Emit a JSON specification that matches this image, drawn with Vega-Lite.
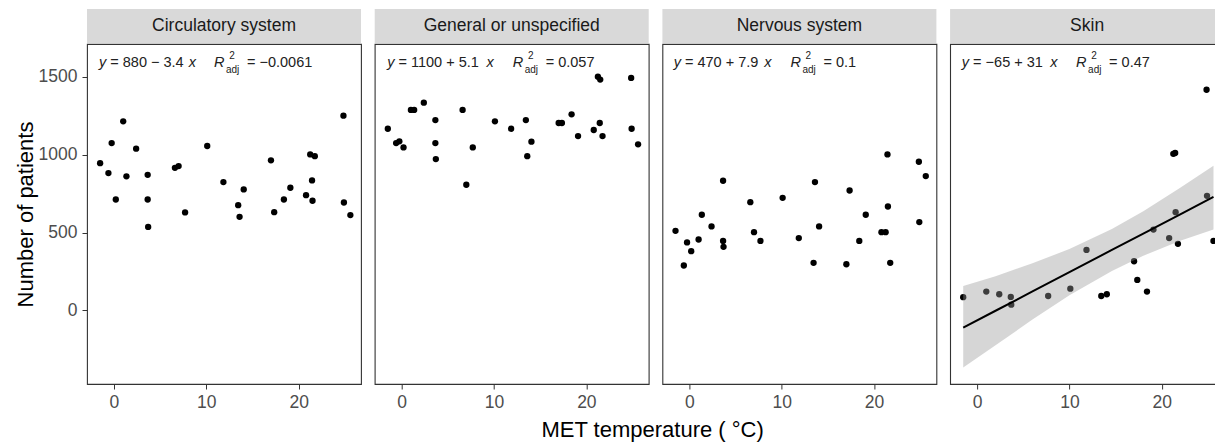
{
  "$schema": "https://vega.github.io/schema/vega-lite/v6.json",
  "padding": {"left": 13, "top": 9, "right": 0, "bottom": 0},
  "config": {
    "font": "Liberation Sans",
    "view": {"stroke": "#333", "strokeWidth": 1.1},
    "axis": {"grid": false, "domain": false, "labelFont": "Liberation Sans", "labelFontSize": 17.5, "labelColor": "#4d4d4d", "tickColor": "#333", "tickSize": 5, "labelPadding": 4, "titleFont": "Liberation Sans", "titleFontWeight": "normal", "titleFontSize": 22, "titleColor": "#000"},
    "concat": {"spacing": 11.7}
  },
  "title": {"text": "MET temperature ( °C)", "orient": "bottom", "anchor": "middle", "frame": "group", "dx": 565.6, "font": "Liberation Sans", "fontSize": 22, "fontWeight": "normal", "color": "#000", "offset": 9},
  "datasets": {
    "labels": [
      {"panel": "Circulatory system", "mid": "= 880 − 3.4", "r2": "= −0.0061"},
      {"panel": "General or unspecified", "mid": "= 1100 + 5.1", "r2": "= 0.057"},
      {"panel": "Nervous system", "mid": "= 470 + 7.9", "r2": "= 0.1"},
      {"panel": "Skin", "mid": "= −65 + 31", "r2": "= 0.47"}
    ],
    "band": [
      {"x": -1.5, "fit": -111, "lo": -368, "hi": 156},
      {"x": 2, "fit": -3, "lo": -225, "hi": 219},
      {"x": 6, "fit": 121, "lo": -60, "hi": 302},
      {"x": 10, "fit": 245, "lo": 96, "hi": 394},
      {"x": 14.6, "fit": 388, "lo": 253, "hi": 523},
      {"x": 18, "fit": 493, "lo": 350, "hi": 636},
      {"x": 22, "fit": 617, "lo": 447, "hi": 787},
      {"x": 25.6, "fit": 729, "lo": 520, "hi": 930}
    ],
    "pts": [
      {"panel": "Circulatory system", "temp": -1.5, "n": 946},
      {"panel": "Circulatory system", "temp": -0.6, "n": 882},
      {"panel": "Circulatory system", "temp": -0.25, "n": 1075},
      {"panel": "Circulatory system", "temp": 0.2, "n": 712},
      {"panel": "Circulatory system", "temp": 1.0, "n": 1215},
      {"panel": "Circulatory system", "temp": 1.35, "n": 861},
      {"panel": "Circulatory system", "temp": 2.4, "n": 1039},
      {"panel": "Circulatory system", "temp": 3.65, "n": 871},
      {"panel": "Circulatory system", "temp": 3.65, "n": 712},
      {"panel": "Circulatory system", "temp": 3.7, "n": 536},
      {"panel": "Circulatory system", "temp": 6.6, "n": 916},
      {"panel": "Circulatory system", "temp": 7.0, "n": 927},
      {"panel": "Circulatory system", "temp": 7.7, "n": 629},
      {"panel": "Circulatory system", "temp": 10.1, "n": 1056},
      {"panel": "Circulatory system", "temp": 11.85, "n": 824},
      {"panel": "Circulatory system", "temp": 13.45, "n": 676},
      {"panel": "Circulatory system", "temp": 13.6, "n": 601},
      {"panel": "Circulatory system", "temp": 14.05, "n": 777},
      {"panel": "Circulatory system", "temp": 17.0, "n": 964},
      {"panel": "Circulatory system", "temp": 17.35, "n": 631},
      {"panel": "Circulatory system", "temp": 18.4, "n": 712},
      {"panel": "Circulatory system", "temp": 19.1, "n": 788},
      {"panel": "Circulatory system", "temp": 20.8, "n": 740},
      {"panel": "Circulatory system", "temp": 21.25, "n": 1002},
      {"panel": "Circulatory system", "temp": 21.45, "n": 835},
      {"panel": "Circulatory system", "temp": 21.5, "n": 704},
      {"panel": "Circulatory system", "temp": 21.75, "n": 991},
      {"panel": "Circulatory system", "temp": 24.85, "n": 1251},
      {"panel": "Circulatory system", "temp": 24.9, "n": 693},
      {"panel": "Circulatory system", "temp": 25.6, "n": 612},
      {"panel": "General or unspecified", "temp": -1.5, "n": 1167},
      {"panel": "General or unspecified", "temp": -0.6, "n": 1075},
      {"panel": "General or unspecified", "temp": -0.25, "n": 1086},
      {"panel": "General or unspecified", "temp": 0.2, "n": 1047},
      {"panel": "General or unspecified", "temp": 1.0, "n": 1288},
      {"panel": "General or unspecified", "temp": 1.35, "n": 1288},
      {"panel": "General or unspecified", "temp": 2.4, "n": 1335},
      {"panel": "General or unspecified", "temp": 3.65, "n": 1223},
      {"panel": "General or unspecified", "temp": 3.65, "n": 1075},
      {"panel": "General or unspecified", "temp": 3.7, "n": 972},
      {"panel": "General or unspecified", "temp": 6.6, "n": 1288},
      {"panel": "General or unspecified", "temp": 7.0, "n": 807},
      {"panel": "General or unspecified", "temp": 7.7, "n": 1047},
      {"panel": "General or unspecified", "temp": 10.1, "n": 1215},
      {"panel": "General or unspecified", "temp": 11.85, "n": 1167},
      {"panel": "General or unspecified", "temp": 13.45, "n": 1223},
      {"panel": "General or unspecified", "temp": 13.6, "n": 991},
      {"panel": "General or unspecified", "temp": 14.05, "n": 1084},
      {"panel": "General or unspecified", "temp": 17.0, "n": 1204},
      {"panel": "General or unspecified", "temp": 17.35, "n": 1204},
      {"panel": "General or unspecified", "temp": 18.4, "n": 1260},
      {"panel": "General or unspecified", "temp": 19.1, "n": 1120},
      {"panel": "General or unspecified", "temp": 20.8, "n": 1159},
      {"panel": "General or unspecified", "temp": 21.25, "n": 1502},
      {"panel": "General or unspecified", "temp": 21.45, "n": 1204},
      {"panel": "General or unspecified", "temp": 21.5, "n": 1483},
      {"panel": "General or unspecified", "temp": 21.75, "n": 1120},
      {"panel": "General or unspecified", "temp": 24.85, "n": 1494},
      {"panel": "General or unspecified", "temp": 24.9, "n": 1167},
      {"panel": "General or unspecified", "temp": 25.6, "n": 1067},
      {"panel": "Nervous system", "temp": -1.5, "n": 511},
      {"panel": "Nervous system", "temp": -0.6, "n": 288},
      {"panel": "Nervous system", "temp": -0.25, "n": 436},
      {"panel": "Nervous system", "temp": 0.2, "n": 380},
      {"panel": "Nervous system", "temp": 1.0, "n": 455},
      {"panel": "Nervous system", "temp": 1.35, "n": 614},
      {"panel": "Nervous system", "temp": 2.4, "n": 539},
      {"panel": "Nervous system", "temp": 3.65, "n": 446},
      {"panel": "Nervous system", "temp": 3.65, "n": 833},
      {"panel": "Nervous system", "temp": 3.7, "n": 408},
      {"panel": "Nervous system", "temp": 6.6, "n": 695},
      {"panel": "Nervous system", "temp": 7.0, "n": 502},
      {"panel": "Nervous system", "temp": 7.7, "n": 446},
      {"panel": "Nervous system", "temp": 10.1, "n": 723},
      {"panel": "Nervous system", "temp": 11.85, "n": 464},
      {"panel": "Nervous system", "temp": 13.45, "n": 305},
      {"panel": "Nervous system", "temp": 13.6, "n": 824},
      {"panel": "Nervous system", "temp": 14.05, "n": 539},
      {"panel": "Nervous system", "temp": 17.0, "n": 296},
      {"panel": "Nervous system", "temp": 17.35, "n": 770},
      {"panel": "Nervous system", "temp": 18.4, "n": 446},
      {"panel": "Nervous system", "temp": 19.1, "n": 614},
      {"panel": "Nervous system", "temp": 20.8, "n": 502},
      {"panel": "Nervous system", "temp": 21.25, "n": 502},
      {"panel": "Nervous system", "temp": 21.45, "n": 1002},
      {"panel": "Nervous system", "temp": 21.5, "n": 667},
      {"panel": "Nervous system", "temp": 21.75, "n": 305},
      {"panel": "Nervous system", "temp": 24.85, "n": 955},
      {"panel": "Nervous system", "temp": 24.9, "n": 567},
      {"panel": "Nervous system", "temp": 25.6, "n": 863},
      {"panel": "Skin", "temp": -1.5, "n": 84},
      {"panel": "Skin", "temp": 1.0, "n": 120},
      {"panel": "Skin", "temp": 2.4, "n": 103},
      {"panel": "Skin", "temp": 3.65, "n": 86},
      {"panel": "Skin", "temp": 3.7, "n": 36},
      {"panel": "Skin", "temp": 7.7, "n": 92},
      {"panel": "Skin", "temp": 10.1, "n": 139},
      {"panel": "Skin", "temp": 11.85, "n": 388},
      {"panel": "Skin", "temp": 13.45, "n": 92},
      {"panel": "Skin", "temp": 14.05, "n": 103},
      {"panel": "Skin", "temp": 17.0, "n": 315},
      {"panel": "Skin", "temp": 17.35, "n": 195},
      {"panel": "Skin", "temp": 18.4, "n": 120},
      {"panel": "Skin", "temp": 19.1, "n": 519},
      {"panel": "Skin", "temp": 20.8, "n": 464},
      {"panel": "Skin", "temp": 21.25, "n": 1006},
      {"panel": "Skin", "temp": 21.45, "n": 1011},
      {"panel": "Skin", "temp": 21.5, "n": 631},
      {"panel": "Skin", "temp": 21.75, "n": 427},
      {"panel": "Skin", "temp": 24.85, "n": 1418},
      {"panel": "Skin", "temp": 24.9, "n": 736},
      {"panel": "Skin", "temp": 25.6, "n": 446}
    ]
  },
  "hconcat": [
    {
      "spacing": 0,
      "vconcat": [
        {"width": 274, "height": 34, "view": {"fill": "#d9d9d9", "stroke": null},
         "data": {"name": "labels"}, "transform": [{"filter": "datum.panel === 'Circulatory system'"}],
         "mark": {"type": "text", "fontSize": 17.5, "color": "#1a1a1a", "baseline": "middle"},
         "encoding": {"text": {"field": "panel"}}},
        {"width": 274, "height": 340,
         "layer": [
           {"data": {"name": "pts"}, "transform": [{"filter": "datum.panel === 'Circulatory system'"}],
            "mark": {"type": "circle", "size": 40, "color": "#000", "opacity": 1},
            "encoding": {
              "x": {"field": "temp", "type": "quantitative", "scale": {"domain": [-2.92, 26.75], "nice": false, "zero": false}, "axis": {"values": [0, 10, 20], "title": null}},
              "y": {"field": "n", "type": "quantitative", "scale": {"domain": [-474, 1712], "nice": false, "zero": false}, "axis": {"values": [0, 500, 1000, 1500], "format": "d", "title": "Number of patients", "titlePadding": 1, "labelPadding": 5}}
            }},
           {"data": {"name": "labels"}, "transform": [{"filter": "datum.panel === 'Circulatory system'"}],
            "layer": [
              {"mark": {"type": "text", "text": "y", "fontStyle": "italic", "fontSize": 14.5, "align": "left", "baseline": "middle", "dx": 12, "color": "#222"}},
              {"mark": {"type": "text", "fontSize": 14.5, "align": "left", "baseline": "middle", "dx": 23.3, "color": "#222"}, "encoding": {"text": {"field": "mid"}}},
              {"mark": {"type": "text", "text": "x", "fontStyle": "italic", "fontSize": 14.5, "align": "right", "baseline": "middle", "dx": 109, "color": "#222"}},
              {"mark": {"type": "text", "text": "R", "fontStyle": "italic", "fontSize": 14.5, "align": "left", "baseline": "middle", "dx": 127, "color": "#222"}},
              {"mark": {"type": "text", "text": "2", "fontSize": 10, "align": "center", "baseline": "middle", "dx": 145, "dy": -7, "color": "#222"}},
              {"mark": {"type": "text", "text": "adj", "fontSize": 10, "align": "left", "baseline": "middle", "dx": 139, "dy": 7, "color": "#222"}},
              {"mark": {"type": "text", "fontSize": 14.5, "align": "left", "baseline": "middle", "dx": 160, "color": "#222"}, "encoding": {"text": {"field": "r2"}}}
            ],
            "encoding": {"x": {"datum": -2.92}, "y": {"datum": 1590}}}
         ]}
      ]
    },
    {
      "spacing": 0,
      "vconcat": [
        {"width": 274, "height": 34, "view": {"fill": "#d9d9d9", "stroke": null},
         "data": {"name": "labels"}, "transform": [{"filter": "datum.panel === 'General or unspecified'"}],
         "mark": {"type": "text", "fontSize": 17.5, "color": "#1a1a1a", "baseline": "middle"},
         "encoding": {"text": {"field": "panel"}}},
        {"width": 274, "height": 340,
         "layer": [
           {"data": {"name": "pts"}, "transform": [{"filter": "datum.panel === 'General or unspecified'"}],
            "mark": {"type": "circle", "size": 40, "color": "#000", "opacity": 1},
            "encoding": {
              "x": {"field": "temp", "type": "quantitative", "scale": {"domain": [-2.92, 26.75], "nice": false, "zero": false}, "axis": {"values": [0, 10, 20], "title": null}},
              "y": {"field": "n", "type": "quantitative", "scale": {"domain": [-474, 1712], "nice": false, "zero": false}, "axis": null}
            }},
           {"data": {"name": "labels"}, "transform": [{"filter": "datum.panel === 'General or unspecified'"}],
            "layer": [
              {"mark": {"type": "text", "text": "y", "fontStyle": "italic", "fontSize": 14.5, "align": "left", "baseline": "middle", "dx": 12.5, "color": "#222"}},
              {"mark": {"type": "text", "fontSize": 14.5, "align": "left", "baseline": "middle", "dx": 23.8, "color": "#222"}, "encoding": {"text": {"field": "mid"}}},
              {"mark": {"type": "text", "text": "x", "fontStyle": "italic", "fontSize": 14.5, "align": "right", "baseline": "middle", "dx": 119, "color": "#222"}},
              {"mark": {"type": "text", "text": "R", "fontStyle": "italic", "fontSize": 14.5, "align": "left", "baseline": "middle", "dx": 138, "color": "#222"}},
              {"mark": {"type": "text", "text": "2", "fontSize": 10, "align": "center", "baseline": "middle", "dx": 156, "dy": -7, "color": "#222"}},
              {"mark": {"type": "text", "text": "adj", "fontSize": 10, "align": "left", "baseline": "middle", "dx": 150, "dy": 7, "color": "#222"}},
              {"mark": {"type": "text", "fontSize": 14.5, "align": "left", "baseline": "middle", "dx": 171, "color": "#222"}, "encoding": {"text": {"field": "r2"}}}
            ],
            "encoding": {"x": {"datum": -2.92}, "y": {"datum": 1590}}}
         ]}
      ]
    },
    {
      "spacing": 0,
      "vconcat": [
        {"width": 274, "height": 34, "view": {"fill": "#d9d9d9", "stroke": null},
         "data": {"name": "labels"}, "transform": [{"filter": "datum.panel === 'Nervous system'"}],
         "mark": {"type": "text", "fontSize": 17.5, "color": "#1a1a1a", "baseline": "middle"},
         "encoding": {"text": {"field": "panel"}}},
        {"width": 274, "height": 340,
         "layer": [
           {"data": {"name": "pts"}, "transform": [{"filter": "datum.panel === 'Nervous system'"}],
            "mark": {"type": "circle", "size": 40, "color": "#000", "opacity": 1},
            "encoding": {
              "x": {"field": "temp", "type": "quantitative", "scale": {"domain": [-2.92, 26.75], "nice": false, "zero": false}, "axis": {"values": [0, 10, 20], "title": null}},
              "y": {"field": "n", "type": "quantitative", "scale": {"domain": [-474, 1712], "nice": false, "zero": false}, "axis": null}
            }},
           {"data": {"name": "labels"}, "transform": [{"filter": "datum.panel === 'Nervous system'"}],
            "layer": [
              {"mark": {"type": "text", "text": "y", "fontStyle": "italic", "fontSize": 14.5, "align": "left", "baseline": "middle", "dx": 11.3, "color": "#222"}},
              {"mark": {"type": "text", "fontSize": 14.5, "align": "left", "baseline": "middle", "dx": 22.6, "color": "#222"}, "encoding": {"text": {"field": "mid"}}},
              {"mark": {"type": "text", "text": "x", "fontStyle": "italic", "fontSize": 14.5, "align": "right", "baseline": "middle", "dx": 109, "color": "#222"}},
              {"mark": {"type": "text", "text": "R", "fontStyle": "italic", "fontSize": 14.5, "align": "left", "baseline": "middle", "dx": 128, "color": "#222"}},
              {"mark": {"type": "text", "text": "2", "fontSize": 10, "align": "center", "baseline": "middle", "dx": 146, "dy": -7, "color": "#222"}},
              {"mark": {"type": "text", "text": "adj", "fontSize": 10, "align": "left", "baseline": "middle", "dx": 140, "dy": 7, "color": "#222"}},
              {"mark": {"type": "text", "fontSize": 14.5, "align": "left", "baseline": "middle", "dx": 161, "color": "#222"}, "encoding": {"text": {"field": "r2"}}}
            ],
            "encoding": {"x": {"datum": -2.92}, "y": {"datum": 1590}}}
         ]}
      ]
    },
    {
      "spacing": 0,
      "vconcat": [
        {"width": 274, "height": 34, "view": {"fill": "#d9d9d9", "stroke": null},
         "data": {"name": "labels"}, "transform": [{"filter": "datum.panel === 'Skin'"}],
         "mark": {"type": "text", "fontSize": 17.5, "color": "#1a1a1a", "baseline": "middle"},
         "encoding": {"text": {"field": "panel"}}},
        {"width": 274, "height": 340,
         "layer": [
           {"data": {"name": "pts"}, "transform": [{"filter": "datum.panel === 'Skin'"}],
            "mark": {"type": "circle", "size": 40, "color": "#000", "opacity": 1},
            "encoding": {
              "x": {"field": "temp", "type": "quantitative", "scale": {"domain": [-2.92, 26.75], "nice": false, "zero": false}, "axis": {"values": [0, 10, 20], "title": null}},
              "y": {"field": "n", "type": "quantitative", "scale": {"domain": [-474, 1712], "nice": false, "zero": false}, "axis": null}
            }},
           {"data": {"name": "band"},
            "mark": {"type": "area", "color": "#999999", "opacity": 0.4},
            "encoding": {"x": {"field": "x", "type": "quantitative"}, "y": {"field": "lo", "type": "quantitative"}, "y2": {"field": "hi"}}},
           {"data": {"name": "band"},
            "mark": {"type": "line", "color": "#000", "strokeWidth": 2},
            "encoding": {"x": {"field": "x", "type": "quantitative"}, "y": {"field": "fit", "type": "quantitative"}}},
           {"data": {"name": "labels"}, "transform": [{"filter": "datum.panel === 'Skin'"}],
            "layer": [
              {"mark": {"type": "text", "text": "y", "fontStyle": "italic", "fontSize": 14.5, "align": "left", "baseline": "middle", "dx": 11.7, "color": "#222"}},
              {"mark": {"type": "text", "fontSize": 14.5, "align": "left", "baseline": "middle", "dx": 23, "color": "#222"}, "encoding": {"text": {"field": "mid"}}},
              {"mark": {"type": "text", "text": "x", "fontStyle": "italic", "fontSize": 14.5, "align": "right", "baseline": "middle", "dx": 107.3, "color": "#222"}},
              {"mark": {"type": "text", "text": "R", "fontStyle": "italic", "fontSize": 14.5, "align": "left", "baseline": "middle", "dx": 126, "color": "#222"}},
              {"mark": {"type": "text", "text": "2", "fontSize": 10, "align": "center", "baseline": "middle", "dx": 144, "dy": -7, "color": "#222"}},
              {"mark": {"type": "text", "text": "adj", "fontSize": 10, "align": "left", "baseline": "middle", "dx": 138, "dy": 7, "color": "#222"}},
              {"mark": {"type": "text", "fontSize": 14.5, "align": "left", "baseline": "middle", "dx": 159, "color": "#222"}, "encoding": {"text": {"field": "r2"}}}
            ],
            "encoding": {"x": {"datum": -2.92}, "y": {"datum": 1590}}}
         ]}
      ]
    }
  ]
}
